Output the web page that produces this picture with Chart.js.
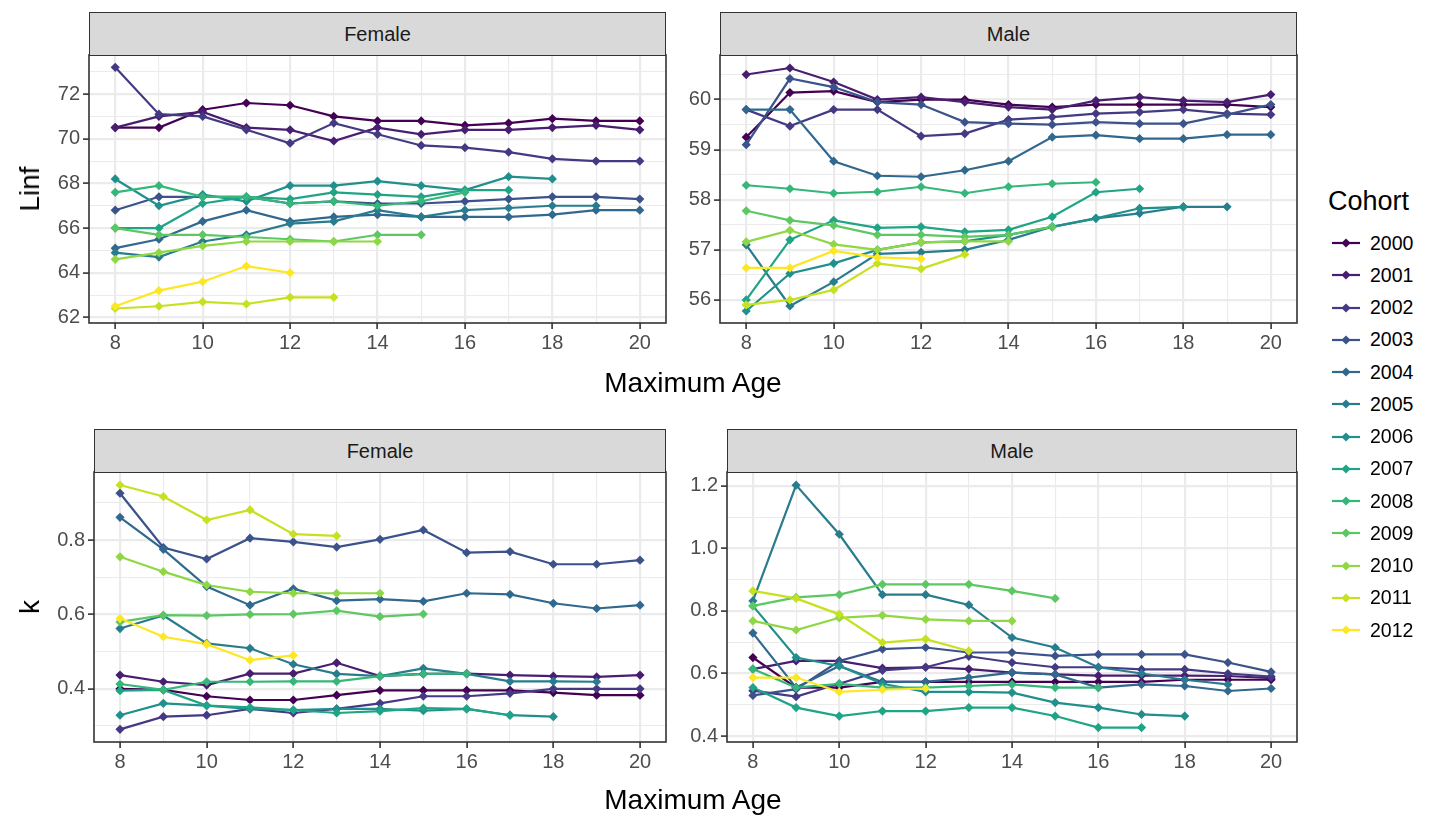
<!DOCTYPE html>
<html>
<head>
<meta charset="utf-8">
<script src="https://cdn.jsdelivr.net/npm/chart.js@4.4.1/dist/chart.umd.min.js"></script>
<style>
  html, body { margin: 0; padding: 0; background: #fff; }
  body { width: 1433px; height: 819px; position: relative; overflow: hidden;
         font-family: "Liberation Sans", Arial, sans-serif; }
  canvas { position: absolute; }
  .strip { position: absolute; background: #d9d9d9; border: 1.6px solid #333;
           box-sizing: border-box; display: flex; align-items: center; justify-content: center;
           font-size: 20px; color: #1a1a1a; }
  .xtitle { position: absolute; font-size: 28px; color: #000; transform: translate(-50%, -50%); white-space: nowrap; }
  .ytitle { position: absolute; font-size: 28px; color: #000; transform: translate(-50%, -50%) rotate(-90deg); white-space: nowrap; }
  .legend-title { position: absolute; font-size: 27px; color: #000; transform: translateY(-50%); }
  .legend-item { position: absolute; height: 30px; display: flex; align-items: center; transform: translateY(-50%); }
  .legend-item span { font-size: 19.5px; color: #000; margin-left: 8px; }
</style>
</head>
<body>
<script>
// Maximum age used in each growth fit
const ages = [8, 9, 10, 11, 12, 13, 14, 15, 16, 17, 18, 19, 20];
const cohorts = ['2000', '2001', '2002', '2003', '2004', '2005', '2006',
                 '2007', '2008', '2009', '2010', '2011', '2012'];
const cohortColors = ['#440154', '#481F70', '#443A83', '#3B528B', '#31688E', '#287C8E', '#21908C',
                      '#20A486', '#35B779', '#5DC863', '#8FD744', '#C7E020', '#FDE725'];

// Tick labels
const xTickLabels = [8, 10, 12, 14, 16, 18, 20];
const linfFemaleTicks = [62, 64, 66, 68, 70, 72];
const linfMaleTicks = [56, 57, 58, 59, 60];
const kFemaleTicks = [0.4, 0.6, 0.8];
const kMaleTicks = [0.4, 0.6, 0.8, 1.0, 1.2];

// Linf estimates, one row per cohort (2000 ... 2012), starting at age 8
const linfFemale = [
  [70.5, 70.5, 71.3, 71.6, 71.5, 71.0, 70.8, 70.8, 70.6, 70.7, 70.9, 70.8, 70.8],
  [70.5, 71.0, 71.2, 70.5, 70.4, 69.9, 70.5, 70.2, 70.4, 70.4, 70.5, 70.6, 70.4],
  [73.2, 71.1, 71.0, 70.4, 69.8, 70.7, 70.2, 69.7, 69.6, 69.4, 69.1, 69.0, 69.0],
  [66.8, 67.4, 67.4, 67.4, 67.1, 67.2, 67.1, 67.1, 67.2, 67.3, 67.4, 67.4, 67.3],
  [65.1, 65.5, 66.3, 66.8, 66.3, 66.5, 66.6, 66.5, 66.5, 66.5, 66.6, 66.8, 66.8],
  [64.9, 64.7, 65.4, 65.7, 66.2, 66.3, 66.8, 66.5, 66.8, 66.9, 67.0, 67.0],
  [68.2, 67.0, 67.5, 67.2, 67.9, 67.9, 68.1, 67.9, 67.7, 68.3, 68.2],
  [66.0, 66.0, 67.1, 67.4, 67.3, 67.6, 67.5, 67.4, 67.7, 67.7],
  [67.6, 67.9, 67.4, 67.4, 67.1, 67.2, 67.0, 67.2, 67.6],
  [66.0, 65.7, 65.7, 65.6, 65.5, 65.4, 65.7, 65.7],
  [64.6, 64.9, 65.2, 65.4, 65.4, 65.4, 65.4],
  [62.4, 62.5, 62.7, 62.6, 62.9, 62.9],
  [62.5, 63.2, 63.6, 64.3, 64.0]
];
const linfMale = [
  [59.25, 60.14, 60.17, 59.95, 60.0, 60.0, 59.9, 59.85, 59.9, 59.9, 59.9, 59.9, 59.85],
  [60.5, 60.63, 60.35, 60.0, 60.05, 59.95, 59.85, 59.8, 59.98, 60.05, 59.98, 59.95, 60.1],
  [59.8, 59.47, 59.8, 59.8, 59.27, 59.32, 59.6, 59.65, 59.72, 59.75, 59.8, 59.72, 59.7],
  [59.1, 60.42, 60.25, 59.95, 59.9, 59.55, 59.52, 59.5, 59.55, 59.52, 59.52, 59.7, 59.9],
  [59.8, 59.8, 58.77, 58.48, 58.46, 58.59, 58.77, 59.25, 59.29, 59.22, 59.22, 59.3, 59.3],
  [57.1, 55.88, 56.36, 56.92, 56.95, 57.0, 57.2, 57.46, 57.63, 57.73, 57.86, 57.86],
  [55.78, 56.53, 56.73, 57.0, 57.15, 57.17, 57.3, 57.46, 57.63, 57.83, 57.86],
  [56.0, 57.2, 57.59, 57.44, 57.46, 57.36, 57.4, 57.66, 58.15, 58.22],
  [58.29, 58.22, 58.13, 58.16, 58.26, 58.13, 58.26, 58.32, 58.35],
  [57.78, 57.59, 57.49, 57.3, 57.3, 57.26, 57.3, 57.46],
  [57.16, 57.39, 57.11, 57.0, 57.15, 57.17, 57.17],
  [55.9, 56.0, 56.2, 56.73, 56.62, 56.91],
  [56.64, 56.64, 56.98, 56.85, 56.82]
];

// k estimates, one row per cohort (2000 ... 2012), starting at age 8
const kFemale = [
  [0.400, 0.397, 0.380, 0.370, 0.370, 0.383, 0.396, 0.396, 0.396, 0.396, 0.390, 0.383, 0.383],
  [0.437, 0.419, 0.410, 0.441, 0.441, 0.470, 0.434, 0.440, 0.441, 0.437, 0.434, 0.432, 0.437],
  [0.291, 0.325, 0.329, 0.346, 0.335, 0.346, 0.361, 0.380, 0.380, 0.388, 0.400, 0.400, 0.400],
  [0.926, 0.780, 0.749, 0.805, 0.795, 0.781, 0.802, 0.827, 0.766, 0.769, 0.735, 0.735, 0.746],
  [0.861, 0.775, 0.675, 0.625, 0.669, 0.637, 0.641, 0.635, 0.657, 0.654, 0.630, 0.616, 0.625],
  [0.562, 0.597, 0.522, 0.509, 0.466, 0.440, 0.434, 0.455, 0.440, 0.420, 0.420, 0.419],
  [0.329, 0.361, 0.355, 0.346, 0.343, 0.346, 0.346, 0.341, 0.346, 0.329, 0.325],
  [0.395, 0.397, 0.355, 0.350, 0.343, 0.335, 0.340, 0.348, 0.346, 0.329],
  [0.413, 0.397, 0.419, 0.419, 0.420, 0.420, 0.434, 0.440, 0.441],
  [0.580, 0.598, 0.597, 0.600, 0.601, 0.610, 0.594, 0.601],
  [0.755, 0.715, 0.679, 0.661, 0.657, 0.657, 0.657],
  [0.948, 0.917, 0.854, 0.881, 0.816, 0.811],
  [0.589, 0.540, 0.520, 0.477, 0.490]
];
const kMale = [
  [0.651, 0.555, 0.555, 0.573, 0.573, 0.573, 0.573, 0.573, 0.573, 0.573, 0.580, 0.580, 0.580],
  [0.614, 0.640, 0.640, 0.617, 0.620, 0.614, 0.603, 0.597, 0.593, 0.593, 0.593, 0.592, 0.585],
  [0.545, 0.526, 0.567, 0.610, 0.620, 0.655, 0.635, 0.620, 0.620, 0.613, 0.613, 0.600, 0.590],
  [0.530, 0.550, 0.640, 0.678, 0.683, 0.667, 0.667, 0.656, 0.661, 0.661, 0.661, 0.635, 0.605],
  [0.729, 0.555, 0.624, 0.573, 0.573, 0.587, 0.603, 0.597, 0.555, 0.565, 0.560, 0.544, 0.552],
  [0.832, 1.202, 1.045, 0.852, 0.852, 0.819, 0.715, 0.683, 0.620, 0.600, 0.580, 0.565],
  [0.816, 0.651, 0.624, 0.567, 0.541, 0.541, 0.539, 0.507, 0.491, 0.469, 0.464],
  [0.555, 0.491, 0.464, 0.480, 0.480, 0.491, 0.491, 0.464, 0.427, 0.427],
  [0.614, 0.555, 0.567, 0.555, 0.555, 0.560, 0.565, 0.555, 0.555],
  [0.816, 0.843, 0.852, 0.885, 0.885, 0.885, 0.864, 0.840],
  [0.768, 0.739, 0.778, 0.786, 0.773, 0.768, 0.768],
  [0.864, 0.840, 0.789, 0.699, 0.710, 0.672],
  [0.587, 0.587, 0.541, 0.548, 0.552]
];

// ---- layout of the four facets (panel rectangles in page pixels) ----
const FONT = '"Liberation Sans", Arial, sans-serif';
const Y_AXIS_W = 60;   // room for y tick marks + labels
const X_AXIS_H = 40;   // room for x tick marks + labels
const M = 24;          // spare margin around each canvas so label overflow never shrinks the panel

const panels = [
  { name: 'Female', values: linfFemale, yTicks: linfFemaleTicks, yMin: 61.75, yMax: 73.75, dec: 0,
    left: 89, right: 666, top: 55, bottom: 323, stripTop: 12 },
  { name: 'Male', values: linfMale, yTicks: linfMaleTicks, yMin: 55.54, yMax: 60.89, dec: 0,
    left: 720, right: 1297, top: 55, bottom: 323, stripTop: 12 },
  { name: 'Female', values: kFemale, yTicks: kFemaleTicks, yMin: 0.257, yMax: 0.983, dec: 1,
    left: 94, right: 666, top: 472, bottom: 742, stripTop: 429 },
  { name: 'Male', values: kMale, yTicks: kMaleTicks, yMin: 0.381, yMax: 1.244, dec: 1,
    left: 727, right: 1297, top: 472, bottom: 742, stripTop: 429 }
];

// major breaks plus the minor breaks half way between them (ggplot style)
function withMinor(major, lo, hi) {
  const step = major[1] - major[0];
  const out = major.map(v => ({ value: v, major: true }));
  for (let i = -1; i < major.length; i++) {
    const m = major[0] + (i + 0.5) * step;
    if (m > lo && m < hi) out.push({ value: m, major: false });
  }
  return out.sort((a, b) => a.value - b.value);
}
function isMajor(list, v) { return list.some(t => Math.abs(t - v) < 1e-9); }

const panelFrame = {
  id: 'panelFrame',
  afterDatasetsDraw(chart) {
    const a = chart.chartArea, c = chart.ctx;
    c.save();
    c.strokeStyle = '#333333';
    c.lineWidth = 1.6;
    c.strokeRect(a.left, a.top, a.right - a.left, a.bottom - a.top);
    c.restore();
  }
};

function buildPanel(p) {
  const w = (p.right - p.left) + Y_AXIS_W + 2 * M;
  const h = (p.bottom - p.top) + X_AXIS_H + 2 * M;
  const cv = document.createElement('canvas');
  cv.width = w; cv.height = h;
  cv.style.left = (p.left - Y_AXIS_W - M) + 'px';
  cv.style.top = (p.top - M) + 'px';
  cv.style.width = w + 'px'; cv.style.height = h + 'px';
  document.body.appendChild(cv);

  const strip = document.createElement('div');
  strip.className = 'strip';
  strip.style.left = p.left + 'px';
  strip.style.top = p.stripTop + 'px';
  strip.style.width = (p.right - p.left) + 'px';
  strip.style.height = (p.top - p.stripTop + 1) + 'px';
  strip.textContent = p.name;
  document.body.appendChild(strip);

  const lineSets = [], pointSets = [];
  p.values.forEach((row, i) => {
    const pts = row.map((v, j) => ({ x: ages[j], y: v }));
    lineSets.push({ label: cohorts[i], data: pts, borderColor: cohortColors[i], borderWidth: 2.2,
                    pointRadius: 0, tension: 0, order: 100 + (cohorts.length - i) });
    pointSets.push({ label: cohorts[i] + ' pts', data: pts, showLine: false,
                     pointStyle: 'rectRot', pointRadius: 4.6, pointBorderWidth: 0,
                     pointBackgroundColor: cohortColors[i], borderColor: cohortColors[i],
                     order: cohorts.length - i });
  });

  const xAll = withMinor(xTickLabels, 7.4, 20.6);
  const yAll = withMinor(p.yTicks, p.yMin, p.yMax);

  const gridColor = '#EBEBEB';
  new Chart(cv, {
    type: 'line',
    data: { datasets: lineSets.concat(pointSets) },
    options: {
      responsive: false, animation: false, devicePixelRatio: 1,
      layout: { padding: { left: M, right: M, top: M, bottom: M } },
      plugins: { legend: { display: false }, tooltip: { enabled: false } },
      scales: {
        x: {
          type: 'linear', min: 7.4, max: 20.6,
          afterBuildTicks: s => { s.ticks = xAll.map(t => ({ value: t.value })); },
          afterFit: s => { s.height = X_AXIS_H; },
          border: { display: false },
          grid: {
            color: gridColor,
            lineWidth: ctx => isMajor(xTickLabels, ctx.tick.value) ? 2.2 : 1.1,
            tickColor: ctx => isMajor(xTickLabels, ctx.tick.value) ? '#333333' : 'rgba(0,0,0,0)',
            tickWidth: 1.6, tickLength: 6, drawTicks: true
          },
          ticks: {
            autoSkip: false, maxRotation: 0, padding: 2, color: '#4D4D4D',
            font: { family: FONT, size: 20 },
            callback: v => isMajor(xTickLabels, v) ? String(v) : ''
          }
        },
        y: {
          type: 'linear', min: p.yMin, max: p.yMax,
          afterBuildTicks: s => { s.ticks = yAll.map(t => ({ value: t.value })); },
          afterFit: s => { s.width = Y_AXIS_W; },
          border: { display: false },
          grid: {
            color: gridColor,
            lineWidth: ctx => isMajor(p.yTicks, ctx.tick.value) ? 2.2 : 1.1,
            tickColor: ctx => isMajor(p.yTicks, ctx.tick.value) ? '#333333' : 'rgba(0,0,0,0)',
            tickWidth: 1.6, tickLength: 6, drawTicks: true
          },
          ticks: {
            autoSkip: false, padding: 3, color: '#4D4D4D',
            font: { family: FONT, size: 20 },
            callback: v => isMajor(p.yTicks, v) ? Number(v).toFixed(p.dec) : ''
          }
        }
      }
    },
    plugins: [panelFrame]
  });
}
panels.forEach(buildPanel);

// axis titles
function addText(cls, text, x, y) {
  const d = document.createElement('div');
  d.className = cls; d.textContent = text;
  d.style.left = x + 'px'; d.style.top = y + 'px';
  document.body.appendChild(d);
}
addText('xtitle', 'Maximum Age', 693, 383);
addText('xtitle', 'Maximum Age', 693, 800);
addText('ytitle', 'Linf', 30, 189);
addText('ytitle', 'k', 30, 607);

// legend
addText('legend-title', 'Cohort', 1328, 201);
cohorts.forEach((c, i) => {
  const d = document.createElement('div');
  d.className = 'legend-item';
  d.style.left = '1330px';
  d.style.top = (243 + i * 32.25) + 'px';
  const col = cohortColors[i];
  d.innerHTML = '<svg width="32" height="30" viewBox="0 0 32 30">' +
    '<line x1="2" y1="15" x2="30" y2="15" stroke="' + col + '" stroke-width="2.2"/>' +
    '<polygon points="16,10.4 20.6,15 16,19.6 11.4,15" fill="' + col + '"/></svg>' +
    '<span>' + c + '</span>';
  document.body.appendChild(d);
});
</script>
</body>
</html>
